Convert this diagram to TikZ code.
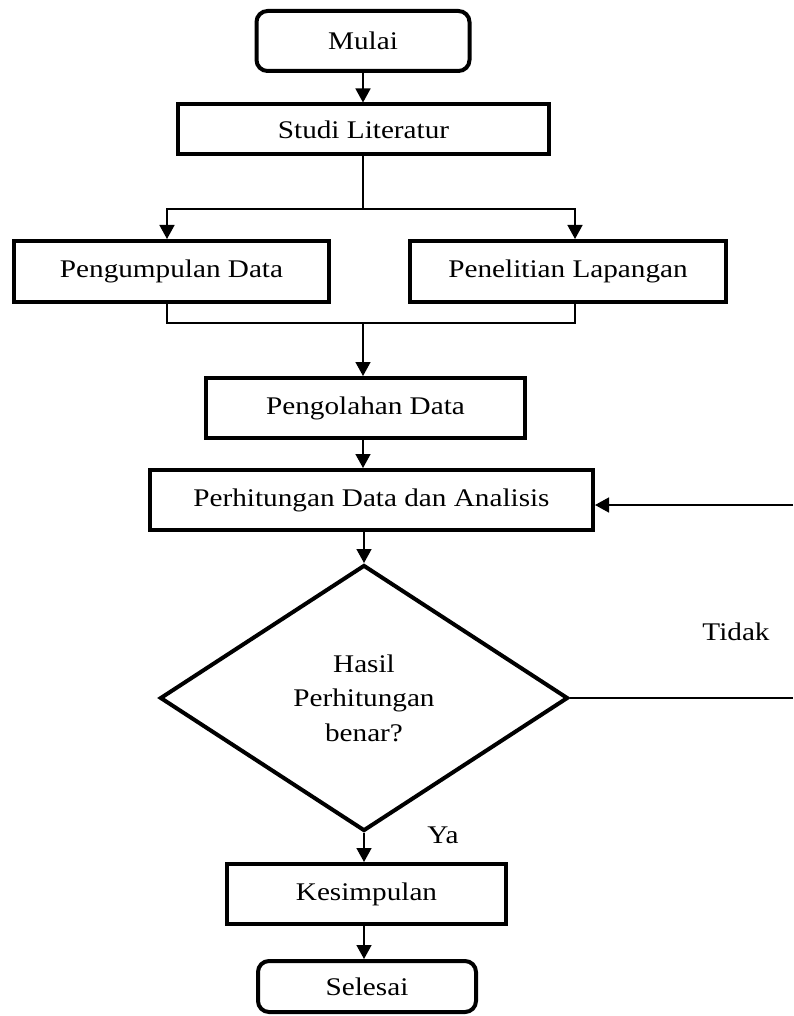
\documentclass[tikz,border=0pt]{standalone}
\usepackage{fontspec}
\setmainfont{Liberation Serif}[FakeStretch=1.15]
\usetikzlibrary{arrows.meta,shapes.geometric}
\begin{document}
\begin{tikzpicture}[x=1pt,y=-1pt,
  txt/.style={font=\fontsize{25.4}{34.5}\selectfont},
  procbox/.style={txt,draw,line width=4pt,rectangle,inner sep=0pt},
  termbox/.style={procbox,rounded corners=11pt},
  decbox/.style={txt,draw,line width=4pt,diamond,inner sep=0pt,align=center},
  conn/.style={line width=1.5pt},
  arr/.style={conn,-{Triangle[length=14pt,width=15pt]}}]
\useasboundingbox (0,0) rectangle (793,1016);
\node[termbox,minimum width=213,minimum height=60] (mulai) at (363,41) {Mulai};
\node[procbox,minimum width=371,minimum height=50] (studi) at (363.5,129.5) {Studi Literatur};
\node[procbox,minimum width=315,minimum height=61] (kumpul) at (171.5,271.5) {Pengumpulan Data};
\node[procbox,minimum width=316,minimum height=61] (lapang) at (568,271.5) {Penelitian Lapangan};
\node[procbox,minimum width=319,minimum height=60] (olah) at (365.5,408) {Pengolahan Data};
\node[procbox,minimum width=443,minimum height=60] (hitung) at (371.5,500) {Perhitungan Data dan Analisis};
\node[decbox,minimum width=408,minimum height=266] (cek) at (364,698) {Hasil\\Perhitungan\\benar?};
\node[procbox,minimum width=279,minimum height=60] (simpul) at (366.5,894) {Kesimpulan};
\node[termbox,minimum width=218,minimum height=51] (selesai) at (367,986.5) {Selesai};
\node[txt] (tidak) at (736,632) {Tidak};
\node[txt] (ya) at (443,835) {Ya};
\coordinate (split) at (363,209);
\coordinate (merge) at (363,323);
\coordinate (fbin) at (793,505);
\coordinate (fbout) at (793,698);
\draw[arr] (mulai.south) -- (studi.north -| mulai.south);
\draw[conn] (studi.south -| split) -- (split);
\draw[arr] (split) -| ([xshift=-4.5pt]kumpul.north);
\draw[arr] (split) -| ([xshift=7pt]lapang.north);
\draw[conn] ([xshift=-4.5pt]kumpul.south) |- (merge) -| ([xshift=7pt]lapang.south);
\draw[arr] (merge) -- (olah.north -| merge);
\draw[arr] (olah.south -| merge) -- (hitung.north -| merge);
\draw[arr] (hitung.south -| cek.north) -- (cek.north);
\draw[arr] (cek.south) -- (simpul.north -| cek.south);
\draw[arr] (simpul.south -| cek.south) -- (selesai.north -| cek.south);
\draw[conn] (cek.east) -- (fbout);
\draw[arr] (fbin) -- (hitung.east |- fbin);
\end{tikzpicture}
\end{document}
